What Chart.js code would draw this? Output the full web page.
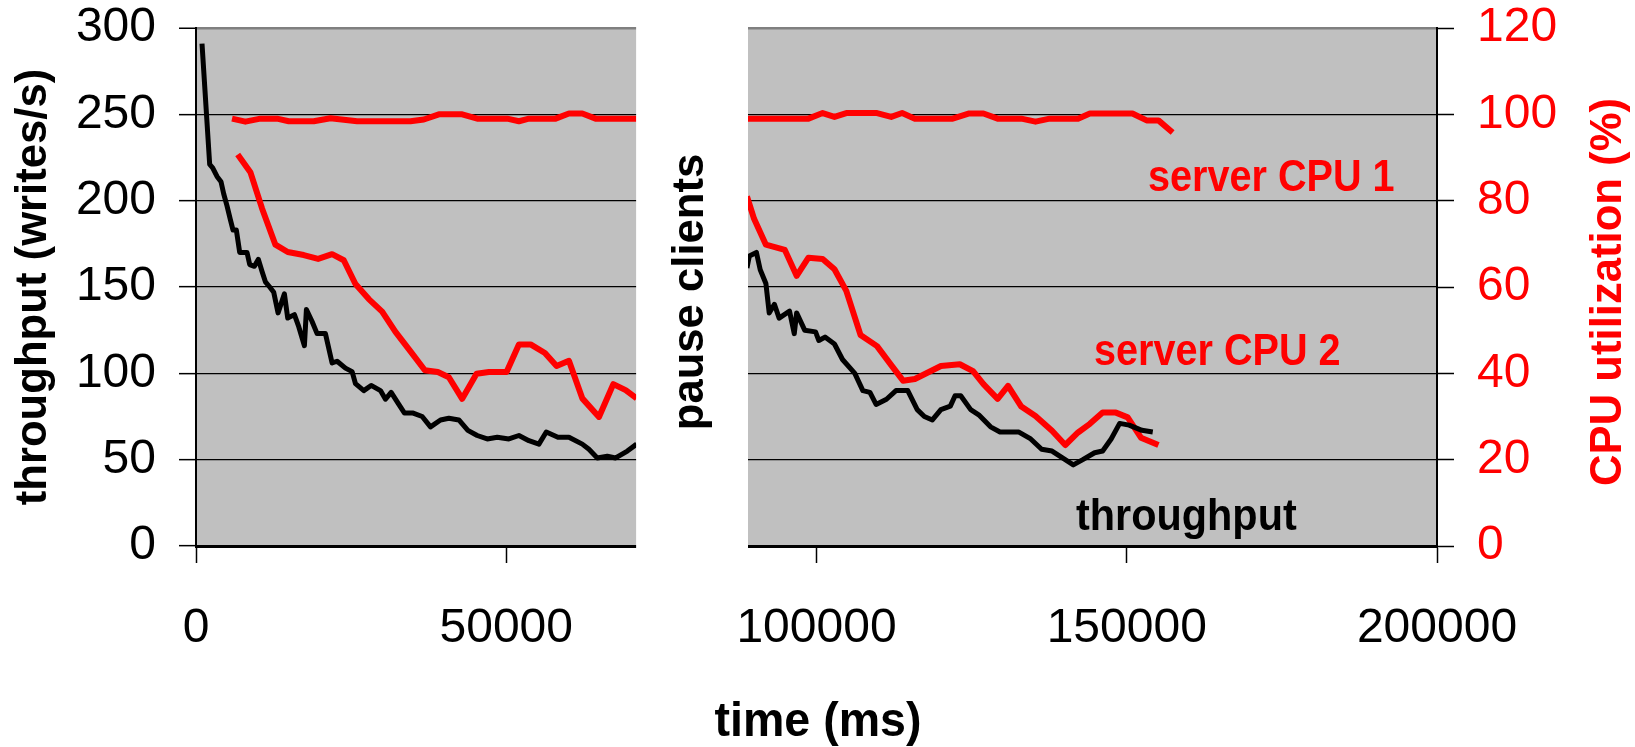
<!DOCTYPE html>
<html><head><meta charset="utf-8">
<script src="https://cdn.jsdelivr.net/npm/chart.js@4.4.1/dist/chart.umd.min.js"></script>
<style>html,body{margin:0;padding:0;background:#fff}canvas{display:block}</style>
</head><body>
<canvas id="c" width="1635" height="747"></canvas>
<script>
// ---- data (time in ms) ----
const throughputTime = [968,2204,2688,3387,4032,4462,5000,5537,5967,6505,7042,8225,8655,9408,10053,10645,11182,11881,12526,13225,14246,14784,15859,16558,17472,17795,18709,19515,20859,21934,22741,24085,25160,25698,27042,28224,29730,30536,31450,32686,33600,34998,36449,37793,39406,40750,42363,43814,45320,46932,48545,50427,52040,53652,55265,56448,58330,60104,62254,63329,64673,66286,67630,69512,71017,
  80000,
  88796,89177,90320,90930,91845,92378,93217,93979,95656,96418,96799,98094,99848,100381,101372,102896,104192,106174,107470,108613,109603,111280,112805,114710,116235,117378,118674,120046,121570,122332,123247,124848,126144,128049,129574,132623,134528,136282,137958,141388,142912,144818,146114,147486,148858,150382,152440,154193];
const throughput = [291,221,219,214,211,204,197,189,183,183,170,170,163,162,166,159,153,150,147,135,146,132,134,127,116,137,130,123,123,106,107,103,101,94,90,93,90,85,89,82,77,77,75,69,73,74,73,67,64,62,63,62,64,61,59,66,63,63,59,56,51,52,51,55,59,
  null,
  161,168,170,160,152,135,140,132,136,123,135,125,124,119,121,117,108,100,90,89,82,85,90,90,79,75,73,79,81,87,87,79,76,69,66,66,62,56,55,47,50,54,55,62,71,70,67,66];

const cpu1Time = [5806,7956,10376,13064,14945,18977,21665,25966,34568,36718,39137,42900,45320,50158,52040,53652,57953,60104,62254,64404,71017,
  80000,
  88796,98704,100991,102896,104802,109756,112043,113796,115854,121952,124620,126906,129193,133004,135291,137577,142150,144056,150915,153202,155107,157394];
const cpu1 = [99,98.3,99,99,98.4,98.4,99.1,98.4,98.4,98.8,100,100,99,99,98.4,99,99,100.2,100.2,99,99,
  null,
  99,99,100.3,99.4,100.3,100.3,99.4,100.3,99,99,100.2,100.2,99,99,98.3,99,99,100.2,100.2,98.6,98.6,95.8];

const cpu2Time = [6720,8763,10645,12795,14784,17365,19677,21934,23816,25698,27848,29999,32149,34568,36880,38976,40750,42900,45212,47202,50051,52040,53921,56233,58114,60104,62254,64942,67254,69243,71017,
  80000,
  88796,89939,91845,94894,96799,98704,100991,102896,104802,107088,109756,112043,113948,115854,120046,123095,125229,126906,129193,130870,133004,135291,137958,140092,142150,144056,146114,148248,150153,152287,155107];
const cpu2 = [90.7,86.6,78.2,69.8,68.1,67.4,66.5,67.6,66.2,60.7,57.2,54.3,49.6,45.1,40.7,40.3,39.1,34.1,39.9,40.3,40.3,46.7,46.7,44.7,41.7,42.9,34.2,29.9,37.5,36.1,34.2,
  null,
  81,75.8,69.8,68.6,62.6,66.8,66.5,64.1,59.1,48.9,46.3,41.9,38.3,38.7,41.7,42.1,40.5,37.5,34.1,37.1,32.3,30.1,26.7,23.4,26.3,28.3,30.9,30.9,29.8,25.1,23.4];

const xTickValues = [0, 50000, 100000, 150000, 200000];
const leftTickValues = [0, 50, 100, 150, 200, 250, 300];
const rightTickValues = [0, 20, 40, 60, 80, 100, 120];
const pauseStart = 70930, pauseEnd = 88960;

const FONT = "'Liberation Sans', Arial, sans-serif";
const RED = '#FF0000';

function pts(xs, ys) { return xs.map((x, i) => ({ x: x, y: ys[i] })); }
function zeroPad(scale) { scale.paddingTop = 0; scale.paddingBottom = 0; scale.paddingLeft = 0; scale.paddingRight = 0; }

const decor = {
  id: 'decor',
  beforeDraw(chart) {
    const { ctx, chartArea: a } = chart;
    ctx.save();
    ctx.fillStyle = '#C0C0C0';
    ctx.fillRect(a.left, a.top, a.right - a.left, a.bottom - a.top);
    ctx.restore();
  },
  afterDraw(chart) {
    const { ctx, chartArea: a } = chart;
    const xs = chart.scales.x;
    const g0 = xs.getPixelForValue(pauseStart), g1 = xs.getPixelForValue(pauseEnd);
    ctx.save();
    ctx.fillStyle = '#FFFFFF';
    ctx.fillRect(g0, 0, g1 - g0, a.bottom + 4);

    function txt(s, x, y, color, size, rot, sx, align, base) {
      ctx.save();
      ctx.translate(x, y);
      if (rot) ctx.rotate(rot);
      ctx.scale(sx, 1);
      ctx.fillStyle = color;
      ctx.font = 'bold ' + size + 'px ' + FONT;
      ctx.textAlign = align || 'center';
      ctx.textBaseline = base || 'middle';
      ctx.fillText(s, 0, 0);
      ctx.restore();
    }
    txt('pause clients', 691, 292, '#000', 45, -Math.PI / 2, 0.97);
    txt('throughput (writes/s)', 34, 287, '#000', 45, -Math.PI / 2, 0.97);
    txt('CPU utilization (%)', 1609, 292, RED, 45, -Math.PI / 2, 0.97);
    txt('time (ms)', 818, 722, '#000', 49, 0, 0.95);
    txt('server CPU 1', 1148, 191, RED, 44, 0, 0.9, 'left', 'alphabetic');
    txt('server CPU 2', 1094, 365, RED, 44, 0, 0.9, 'left', 'alphabetic');
    txt('throughput', 1076, 530, '#000', 45, 0, 0.92, 'left', 'alphabetic');
    ctx.restore();
  }
};

new Chart(document.getElementById('c'), {
  type: 'line',
  data: {
    datasets: [
      { label: 'throughput', data: pts(throughputTime, throughput), yAxisID: 'y', borderColor: '#000', borderWidth: 5, pointRadius: 0, spanGaps: false, tension: 0, order: 0, borderJoinStyle: 'round' },
      { label: 'server CPU 1', data: pts(cpu1Time, cpu1), yAxisID: 'y1', borderColor: RED, borderWidth: 6, pointRadius: 0, spanGaps: false, tension: 0, order: 1, borderJoinStyle: 'round' },
      { label: 'server CPU 2', data: pts(cpu2Time, cpu2), yAxisID: 'y1', borderColor: RED, borderWidth: 6, pointRadius: 0, spanGaps: false, tension: 0, order: 2, borderJoinStyle: 'round' }
    ]
  },
  options: {
    responsive: false,
    animation: false,
    devicePixelRatio: 1,
    layout: { padding: { top: 28, left: 0, right: 0, bottom: 0 } },
    plugins: { legend: { display: false }, tooltip: { enabled: false }, title: { display: false } },
    scales: {
      x: {
        type: 'linear', min: 0, max: 200000,
        afterBuildTicks: s => { s.ticks = xTickValues.map(v => ({ value: v })); },
        afterFit: s => { s.height = 201; zeroPad(s); },
        ticks: { font: { family: FONT, size: 48 }, color: '#000', padding: 37, maxRotation: 0, autoSkip: false, callback: v => String(v) },
        grid: { drawOnChartArea: false, tickLength: 17, tickColor: '#000', tickWidth: 1.5 },
        border: { color: '#000', width: 3 }
      },
      y: {
        position: 'left', min: 0, max: 300,
        afterBuildTicks: s => { s.ticks = leftTickValues.map(v => ({ value: v })); },
        afterFit: s => { s.width = 196; zeroPad(s); },
        ticks: { font: { family: FONT, size: 48 }, color: '#000', padding: 23, callback: v => String(v) },
        grid: {
          color: c => (c.tick && c.tick.value === 300) ? '#808080' : (c.tick && c.tick.value === 0 ? 'rgba(0,0,0,0)' : '#000'),
          lineWidth: c => (c.tick && c.tick.value === 300) ? 2.5 : 1.3,
          tickLength: 17, tickColor: '#000', tickWidth: 1.5
        },
        border: { color: '#000', width: 2 }
      },
      y1: {
        position: 'right', min: 0, max: 120,
        afterBuildTicks: s => { s.ticks = rightTickValues.map(v => ({ value: v })); },
        afterFit: s => { s.width = 198; zeroPad(s); },
        ticks: { font: { family: FONT, size: 48 }, color: RED, padding: 23, callback: v => String(v) },
        grid: { drawOnChartArea: false, tickLength: 17, tickColor: '#000', tickWidth: 1.5 },
        border: { color: '#000', width: 2 }
      }
    }
  },
  plugins: [decor]
});
</script>
</body></html>
